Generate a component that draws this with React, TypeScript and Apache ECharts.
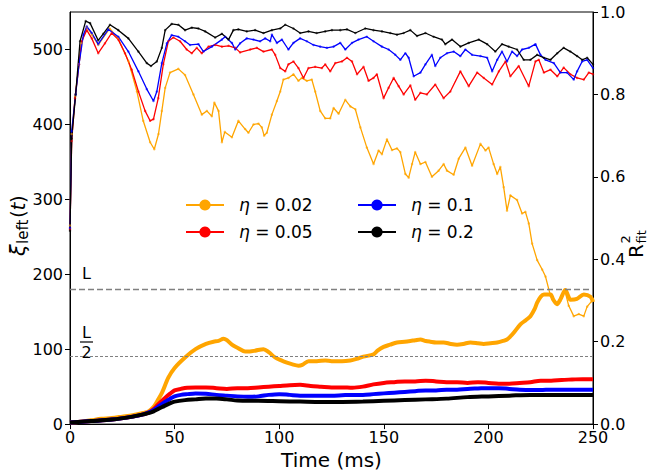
import React, { useEffect, useRef } from "react";
import * as echarts from "echarts";

// ---- data ----
const etaNames = ["η = 0.02", "η = 0.05", "η = 0.1", "η = 0.2"];
const colors = ["#FFA500", "#FF0000", "#0000FF", "#000000"];
const L = 180; // system length, dashed guides at L and L/2
const xTicks = [0, 50, 100, 150, 200, 250];
const leftTicks = [0, 100, 200, 300, 400, 500];
const rightTicks = [0.0, 0.2, 0.4, 0.6, 0.8, 1.0];

// xi_left(t) (left axis), [time ms, value]
const xiOrange: number[][] = [
  [0, 2], [5, 3], [10, 5], [15, 7], [20, 8], [25, 10], [30, 12], [35, 15], [37.5, 17], [40, 23], [42, 32], [44, 42], [47, 62], [50, 75], [55, 89], [60, 100], [65, 107], [68.6, 110], [71, 111], [73.4, 114], [75, 112], [77.4, 106], [80, 102], [83.7, 97], [86, 97], [88.5, 98], [92.5, 100], [95, 96], [98, 89], [101, 85], [103.7, 82], [106, 80], [109.2, 78], [111, 79], [114, 84], [118, 84], [122, 85], [125, 84], [130, 84], [134, 85], [137, 87], [140.2, 90], [145.1, 93], [147, 98], [149.9, 103], [153, 106], [156.3, 109], [160, 110], [162.7, 111], [165, 112], [167.5, 113], [170, 111], [172.2, 110], [175, 109], [178.6, 109], [182, 107], [185, 106], [188, 107], [191.4, 109], [195, 108], [197.7, 107], [201, 108], [204.2, 109], [207, 111], [208.9, 113], [210.5, 117], [212.1, 122], [215.3, 133], [218, 139], [220.1, 144], [222, 153], [223.3, 162], [225, 170], [226.5, 173], [229.7, 173], [231, 166], [232.8, 160], [234.5, 167], [236.8, 179], [238, 172], [239.2, 166], [242.3, 167], [245.6, 173], [248.8, 170], [250, 163],
];
const xiRed: number[][] = [
  [0, 2], [10, 4], [20, 6], [30, 10], [35, 13], [38, 16], [40, 20], [42, 26], [45, 34], [48, 41], [50, 45], [53, 47], [56, 48.5], [60, 49], [65, 49], [70, 48], [75, 47], [80, 48], [85, 48], [90, 49], [95, 50], [100, 51], [105, 52], [110, 52.5], [115, 51], [120, 50], [125, 49], [130, 49], [135, 48.5], [140, 50], [145, 53], [150, 55], [155, 56], [160, 57], [165, 57], [170, 58], [175, 57], [180, 56], [185, 56], [190, 55], [195, 56], [200, 55], [205, 54], [210, 54], [215, 55], [220, 56], [225, 58], [230, 58], [235, 59], [240, 59.5], [245, 60], [250, 60],
];
const xiBlue: number[][] = [
  [0, 2], [10, 4], [20, 6], [30, 10], [35, 13], [38, 16], [40, 19], [42, 23], [45, 29], [48, 34], [50, 37], [53, 39], [56, 40], [60, 41], [65, 40.5], [70, 39], [75, 38], [80, 37], [85, 36.5], [90, 37], [95, 39], [100, 40], [105, 39], [110, 38], [115, 38], [120, 38], [125, 38], [130, 38.5], [135, 39], [140, 39], [145, 40], [150, 41], [155, 42], [160, 43], [165, 44], [170, 45], [175, 45], [180, 46], [185, 46], [190, 47], [195, 47.5], [200, 48], [205, 48], [210, 47], [215, 46], [220, 45.5], [225, 45.5], [230, 46], [235, 46], [240, 46], [245, 46], [250, 46],
];
const xiBlack: number[][] = [
  [0, 2], [10, 4], [20, 6], [30, 10], [35, 13], [38, 15], [40, 17], [42, 20], [45, 24], [48, 28], [50, 30], [55, 32], [60, 33], [65, 34], [70, 34], [75, 33], [80, 31.5], [85, 31], [90, 31], [100, 30.5], [110, 30], [120, 29.5], [130, 29.5], [140, 30], [150, 31], [160, 32], [170, 33], [180, 34], [190, 36], [200, 37], [210, 38], [220, 39], [230, 39], [240, 39], [250, 39],
];

// R^2 of the fit (right axis), [time ms, value]
const r2Orange: number[][] = [
  [0, 0.482], [0.8, 0.704], [2.5, 0.795], [4.3, 0.873], [5.5, 0.925], [8, 0.964], [10.5, 0.945], [13.5, 0.92], [19, 0.96], [23, 0.936], [28, 0.88], [32, 0.807], [35, 0.736], [38.3, 0.684], [40.3, 0.667], [42.3, 0.704], [43.9, 0.76], [45.5, 0.816], [47.8, 0.853], [51.8, 0.862], [55, 0.847], [59, 0.8], [63, 0.751], [65.4, 0.76], [67.8, 0.747], [69, 0.78], [71, 0.76], [72.6, 0.684], [74, 0.709], [77.4, 0.696], [80.5, 0.736], [83.7, 0.716], [85.3, 0.707], [87.7, 0.727], [90.1, 0.729], [91.7, 0.72], [92.8, 0.7], [94.1, 0.707], [96.5, 0.751], [98.9, 0.784], [100.5, 0.807], [102, 0.836], [104.4, 0.84], [106.8, 0.849], [109.2, 0.833], [110.8, 0.84], [113.2, 0.833], [115.6, 0.836], [117.2, 0.807], [119.6, 0.76], [122, 0.742], [124.4, 0.742], [126, 0.767], [128.4, 0.753], [131.6, 0.787], [134, 0.771], [136.4, 0.764], [138.8, 0.72], [141.9, 0.671], [145.1, 0.631], [147.5, 0.664], [149.1, 0.655], [151.5, 0.691], [153.9, 0.665], [156.3, 0.669], [157.9, 0.66], [160.3, 0.607], [161.9, 0.598], [163.5, 0.631], [165, 0.66], [167.5, 0.631], [169.9, 0.636], [173, 0.6], [176.2, 0.615], [178.6, 0.631], [180.2, 0.615], [183.4, 0.605], [185.8, 0.644], [189, 0.671], [192.2, 0.627], [196.2, 0.68], [198.6, 0.664], [200.1, 0.671], [202.5, 0.631], [204.2, 0.607], [205.7, 0.624], [207.3, 0.575], [208.9, 0.518], [210.5, 0.555], [213.7, 0.544], [216.1, 0.511], [217.7, 0.515], [219.3, 0.487], [220.9, 0.438], [223.3, 0.398], [225.7, 0.375], [227.3, 0.358], [229.7, 0.311], [232, 0.295], [234.5, 0.3], [236.4, 0.327], [238.4, 0.287], [240.8, 0.262], [243.2, 0.267], [245.6, 0.262], [247.2, 0.285], [250, 0.302],
];
const r2Red: number[][] = [
  [0, 0.473], [0.8, 0.687], [2.4, 0.791], [4.3, 0.873], [5.6, 0.929], [8, 0.956], [10.4, 0.936], [13.5, 0.9], [16.7, 0.924], [19.9, 0.949], [23.1, 0.933], [26.3, 0.9], [29.5, 0.86], [32.7, 0.807], [35.9, 0.76], [38.3, 0.736], [39.9, 0.74], [42.2, 0.791], [44.6, 0.873], [47, 0.929], [49.4, 0.938], [52.6, 0.929], [55.8, 0.909], [58.2, 0.9], [60.6, 0.913], [63, 0.9], [66.2, 0.916], [69.4, 0.92], [72.6, 0.916], [75.8, 0.918], [79, 0.913], [81.3, 0.902], [86.1, 0.909], [89.3, 0.913], [92.5, 0.904], [96.5, 0.909], [98.1, 0.896], [100.5, 0.864], [102.9, 0.856], [104.4, 0.873], [106.8, 0.88], [109.2, 0.864], [111.6, 0.84], [114, 0.864], [117.2, 0.867], [120.4, 0.864], [122, 0.873], [124.4, 0.856], [126.8, 0.876], [130, 0.88], [132.4, 0.889], [134.8, 0.88], [137.2, 0.849], [140.3, 0.867], [142.7, 0.833], [145.1, 0.84], [146.7, 0.849], [149.9, 0.791], [152.3, 0.816], [154.7, 0.84], [157.1, 0.82], [159.5, 0.8], [162.7, 0.822], [165, 0.787], [167.5, 0.804], [170.6, 0.8], [174.6, 0.824], [178.6, 0.791], [181.8, 0.807], [186.6, 0.856], [190.6, 0.82], [194.6, 0.853], [197.8, 0.84], [201.8, 0.824], [205, 0.856], [208.2, 0.88], [210.5, 0.844], [214.5, 0.869], [219.3, 0.82], [222.5, 0.88], [224.1, 0.884], [226.5, 0.853], [229.7, 0.86], [232.9, 0.844], [236, 0.865], [239.2, 0.849], [242.4, 0.84], [245.6, 0.836], [248, 0.853], [250, 0.849],
];
const r2Blue: number[][] = [
  [0, 0.476], [0.8, 0.711], [2.7, 0.8], [4.3, 0.873], [6.4, 0.945], [8, 0.965], [10.4, 0.949], [13.5, 0.922], [18.3, 0.958], [23.1, 0.94], [27.9, 0.904], [32.7, 0.856], [36.7, 0.813], [39.9, 0.784], [41.5, 0.807], [43.9, 0.876], [46.3, 0.924], [48.6, 0.944], [51.8, 0.94], [55, 0.929], [57.4, 0.92], [61.4, 0.922], [63.8, 0.904], [67.8, 0.916], [72.6, 0.933], [74.2, 0.94], [77.4, 0.925], [79, 0.909], [81.3, 0.924], [84.5, 0.936], [87.7, 0.933], [90.9, 0.929], [93.3, 0.936], [95.7, 0.929], [96.5, 0.945], [98.9, 0.925], [101.3, 0.933], [104.4, 0.909], [106.8, 0.925], [110, 0.936], [113.2, 0.929], [116.4, 0.92], [119.6, 0.916], [122.8, 0.913], [126, 0.916], [129.2, 0.925], [131.6, 0.909], [134.8, 0.925], [137.9, 0.933], [141.9, 0.94], [145.1, 0.929], [149.1, 0.916], [152.3, 0.909], [155.5, 0.896], [157.9, 0.884], [160.3, 0.9], [161.9, 0.889], [164.3, 0.844], [167.5, 0.853], [169.9, 0.873], [173, 0.896], [174.6, 0.869], [177, 0.889], [180.2, 0.9], [183.4, 0.904], [186.6, 0.893], [189, 0.909], [192.2, 0.896], [196.2, 0.893], [199.4, 0.889], [201.8, 0.856], [204.2, 0.884], [206.5, 0.904], [208.9, 0.88], [211.3, 0.904], [213.7, 0.893], [216.1, 0.909], [219.3, 0.913], [222.5, 0.922], [224.9, 0.896], [227.3, 0.884], [231.3, 0.876], [234.4, 0.853], [237.6, 0.853], [240.8, 0.836], [242.4, 0.856], [244.8, 0.88], [247.2, 0.884], [250, 0.864],
];
const r2Black: number[][] = [
  [0, 0.469], [0.8, 0.693], [2.7, 0.8], [4.8, 0.929], [7.5, 0.978], [9.6, 0.973], [13.5, 0.931], [15.9, 0.947], [19.1, 0.969], [23.1, 0.956], [27.9, 0.936], [32.7, 0.904], [36.7, 0.876], [38.7, 0.869], [41.5, 0.88], [43.9, 0.913], [45.5, 0.956], [48.6, 0.971], [51.8, 0.969], [55, 0.956], [58.2, 0.962], [61.4, 0.96], [64.6, 0.953], [69.4, 0.938], [72.6, 0.947], [75.8, 0.933], [78.1, 0.956], [80.5, 0.958], [84.5, 0.953], [88.5, 0.956], [92.5, 0.949], [96.5, 0.956], [100.5, 0.96], [102.9, 0.969], [106.8, 0.96], [110, 0.949], [114, 0.953], [117.9, 0.949], [122, 0.953], [125.2, 0.956], [129.2, 0.956], [132.4, 0.958], [136.4, 0.949], [141.1, 0.96], [145.1, 0.956], [149.1, 0.953], [153.1, 0.949], [156.3, 0.945], [159.5, 0.949], [162.7, 0.956], [165.9, 0.942], [169.9, 0.949], [173.8, 0.94], [177.8, 0.933], [179.4, 0.922], [182.6, 0.933], [186.6, 0.916], [190.6, 0.925], [195.4, 0.933], [199.4, 0.922], [203.3, 0.904], [206.5, 0.922], [209.7, 0.916], [213.7, 0.909], [216.9, 0.884], [220.1, 0.884], [223.3, 0.896], [226.5, 0.889], [229.7, 0.884], [232.9, 0.9], [236, 0.913], [239.2, 0.904], [242.4, 0.893], [244.8, 0.884], [247.2, 0.889], [250, 0.873],
];

const xiSeries = [xiOrange, xiRed, xiBlue, xiBlack];
const r2Series = [r2Orange, r2Red, r2Blue, r2Black];

const FONT = "DejaVu Sans";

export default function App() {
  const ref = useRef<HTMLDivElement>(null);
  useEffect(() => {
    if (!ref.current) return;
    const chart = echarts.init(ref.current, undefined, { renderer: "svg" });
    const series: any[] = [];
    // xi series first so the legend icons come from them
    xiSeries.forEach((d, i) => {
      series.push({
        name: etaNames[i],
        type: "line",
        yAxisIndex: 0,
        data: d,
        symbol: "circle",
        showSymbol: false,
        smooth: 0.3,
        lineStyle: { width: 4, color: colors[i] },
        itemStyle: { color: colors[i] },
        z: 3,
      });
    });
    r2Series.forEach((d, i) => {
      series.push({
        name: etaNames[i],
        type: "line",
        yAxisIndex: 1,
        data: d,
        symbol: "circle",
        symbolSize: 2.5,
        showSymbol: true,
        lineStyle: { width: 1.3, color: colors[i] },
        itemStyle: { color: colors[i], opacity: 0.6 },
        z: 2,
      });
    });
    series.push({
      type: "line",
      yAxisIndex: 0,
      data: [],
      silent: true,
      markLine: {
        silent: true,
        symbol: "none",
        label: { show: false },
        data: [
          { yAxis: L, lineStyle: { color: "#808080", type: [6, 3], width: 1.3 } },
          { yAxis: L / 2, lineStyle: { color: "#808080", type: [3, 2], width: 1 } },
        ],
      },
    });

    const legendCommon = {
      orient: "vertical",
      padding: 0,
      itemWidth: 38,
      itemHeight: 14,
      itemGap: 7,
      lineStyle: { width: 2 },
      itemStyle: { opacity: 1 },
      selectedMode: false,
      formatter: (name: string) => "{i|η}{n|" + name.slice(1) + "}",
      textStyle: {
        fontFamily: FONT,
        fontSize: 17,
        color: "#000",
        padding: [0, 0, 0, 10],
        lineHeight: 20,
        rich: {
          i: { fontStyle: "italic", fontSize: 17, fontFamily: FONT, color: "#000" },
          n: { fontSize: 17, fontFamily: FONT, color: "#000" },
        },
      },
    };

    const axisLabelStyle = { fontFamily: FONT, fontSize: 16, color: "#000" };

    chart.setOption({
      animation: false,
      backgroundColor: "#fff",
      grid: { left: 70, top: 12, width: 523, height: 415, show: true, borderColor: "#000", borderWidth: 1, backgroundColor: "transparent" },
      legend: [
        { ...legendCommon, data: [etaNames[0], etaNames[1]], left: 185, top: 195 },
        { ...legendCommon, data: [etaNames[2], etaNames[3]], left: 357, top: 195 },
      ],
      xAxis: {
        type: "value",
        min: 0,
        max: 250,
        interval: 50,
        axisLine: { lineStyle: { color: "#000", width: 1 } },
        axisTick: { show: true, length: 5, lineStyle: { color: "#000" }, customValues: xTicks },
        axisLabel: { ...axisLabelStyle, margin: 5, customValues: xTicks },
        splitLine: { show: false },
        name: "Time (ms)",
        nameLocation: "middle",
        nameGap: 25,
        nameTextStyle: { fontFamily: FONT, fontSize: 20, color: "#000" },
      },
      yAxis: [
        {
          type: "value",
          min: 0,
          max: 550,
          interval: 100,
          position: "left",
          axisLine: { show: true, lineStyle: { color: "#000", width: 1 } },
          axisTick: { show: true, length: 5, lineStyle: { color: "#000" }, customValues: leftTicks },
          axisLabel: { ...axisLabelStyle, margin: 7, customValues: leftTicks },
          splitLine: { show: false },
        },
        {
          type: "value",
          min: 0,
          max: 1,
          interval: 0.2,
          position: "right",
          axisLine: { show: true, lineStyle: { color: "#000", width: 1 } },
          axisTick: { show: true, length: 5, lineStyle: { color: "#000" }, customValues: rightTicks },
          axisLabel: { ...axisLabelStyle, margin: 7, customValues: rightTicks, formatter: (v: number) => v.toFixed(1) },
          splitLine: { show: false },
        },
      ],
      graphic: [
        // left axis name: xi_left(t)
        {
          type: "group",
          x: 18,
          y: 256,
          rotation: Math.PI / 2,
          children: [
            { type: "text", x: 0, y: 0, style: { text: "ξ", font: `italic 21px '${FONT}'`, fill: "#000", verticalAlign: "middle", align: "left" } },
            { type: "text", x: 12, y: 5, style: { text: "left", font: `15px '${FONT}'`, fill: "#000", verticalAlign: "middle", align: "left" } },
            { type: "text", x: 38, y: 0, style: { text: "(", font: `20px '${FONT}'`, fill: "#000", verticalAlign: "middle", align: "left" } },
            { type: "text", x: 45.5, y: 0, style: { text: "t", font: `italic 20px '${FONT}'`, fill: "#000", verticalAlign: "middle", align: "left" } },
            { type: "text", x: 53, y: 0, style: { text: ")", font: `20px '${FONT}'`, fill: "#000", verticalAlign: "middle", align: "left" } },
          ],
        },
        // right axis name: R^2_fit
        {
          type: "group",
          x: 636,
          y: 258,
          rotation: Math.PI / 2,
          children: [
            { type: "text", x: 0, y: 0, style: { text: "R", font: `20px '${FONT}'`, fill: "#000", verticalAlign: "middle", align: "left" } },
            { type: "text", x: 14.5, y: -11, style: { text: "2", font: `13px '${FONT}'`, fill: "#000", verticalAlign: "middle", align: "left" } },
            { type: "text", x: 14.5, y: 5, style: { text: "fit", font: `13px '${FONT}'`, fill: "#000", verticalAlign: "middle", align: "left" } },
          ],
        },
        // L label
        { type: "text", x: 82, y: 265, style: { text: "L", font: `16px '${FONT}'`, fill: "#000" } },
        // L/2 fraction label
        { type: "text", x: 82, y: 324, style: { text: "L", font: `16px '${FONT}'`, fill: "#000" } },
        { type: "line", shape: { x1: 80, y1: 342, x2: 93, y2: 342 }, style: { stroke: "#000", lineWidth: 1.2 } },
        { type: "text", x: 81.5, y: 344, style: { text: "2", font: `16px '${FONT}'`, fill: "#000" } },
      ],
      series,
    });
    return () => chart.dispose();
  }, []);
  return <div ref={ref} style={{ position: "fixed", left: 0, top: 0, width: 655, height: 475, background: "#fff" }} />;
}
